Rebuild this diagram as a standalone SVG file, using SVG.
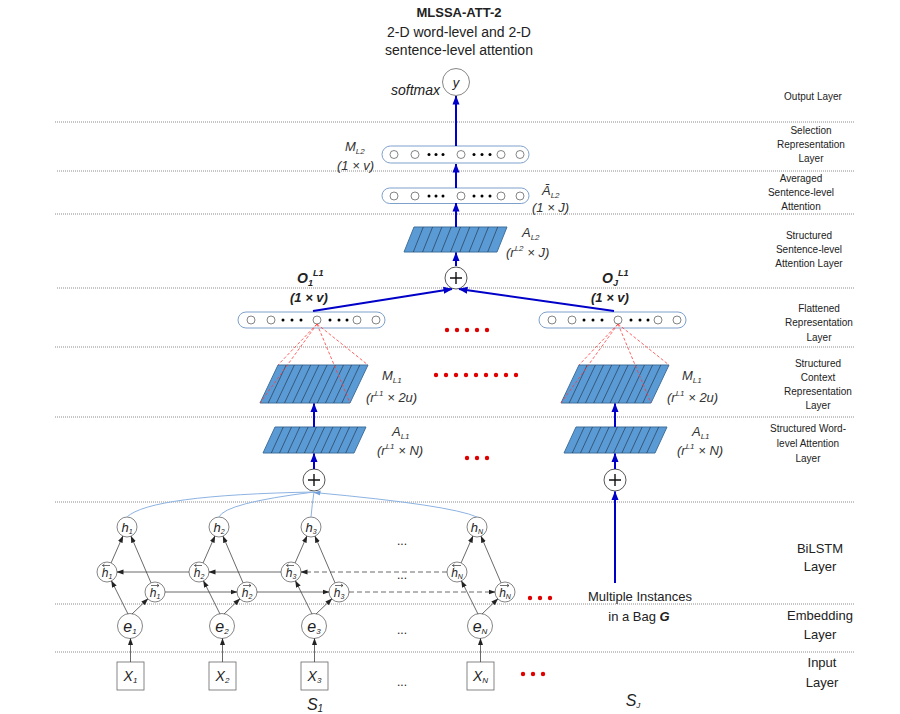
<svg xmlns="http://www.w3.org/2000/svg" width="900" height="714" viewBox="0 0 900 714">
<defs>
<marker id="ab" markerUnits="userSpaceOnUse" markerWidth="9" markerHeight="8" refX="8.5" refY="4" orient="auto"><path d="M0,0.5 L9,4 L0,7.5 z" fill="#0000c8"/></marker>
<marker id="ak" markerUnits="userSpaceOnUse" markerWidth="7" markerHeight="6" refX="6.5" refY="3" orient="auto"><path d="M0,0.5 L7,3 L0,5.5 z" fill="#222"/></marker>
<marker id="al" markerUnits="userSpaceOnUse" markerWidth="7" markerHeight="6" refX="6.5" refY="3" orient="auto"><path d="M0,0.5 L7,3 L0,5.5 z" fill="#6fa0dc"/></marker>
<path id="hM" d="M268.2,403L286.2,365M276.4,403L294.4,365M284.5,403L302.5,365M292.7,403L310.7,365M300.9,403L318.9,365M309.1,403L327.1,365M317.3,403L335.3,365M325.5,403L343.5,365M333.6,403L351.6,365M341.8,403L359.8,365"/>
<path id="hA" d="M271.3,453L283.3,427M279.5,453L291.5,427M287.8,453L299.8,427M296.1,453L308.1,427M304.4,453L316.4,427M312.6,453L324.6,427M320.9,453L332.9,427M329.2,453L341.2,427M337.5,453L349.5,427M345.7,453L357.7,427"/>
<style>
.sep{stroke:#8c8c8c;stroke-width:1;stroke-dasharray:1 1;fill:none}
.lbl{font-family:'Liberation Sans',Arial,sans-serif;font-size:10px;fill:#222;text-anchor:middle}
.lbl2{font-family:'Liberation Sans',Arial,sans-serif;font-size:13px;fill:#222;text-anchor:middle}
.vec{fill:#fff;stroke:#7ea1cc;stroke-width:1}
.vc{fill:#fff;stroke:#666;stroke-width:0.8}
.vd{fill:#000}
.par{fill:#5b9bd5;stroke:#41719c;stroke-width:1}
.hatch{stroke:#1f2a3a;stroke-width:0.6;fill:none}
.blue{stroke:#0000c8;stroke-width:2;fill:none;marker-end:url(#ab)}
.red{stroke:#ff3b3b;stroke-width:0.8;stroke-dasharray:3 2;fill:none}
.rdot{fill:#e00000}
.blk{stroke:#444;stroke-width:0.8;fill:none;marker-end:url(#ak)}
.dsh{stroke-dasharray:5 3}
.lb{stroke:#8db3e2;stroke-width:1;fill:none}
.node{fill:#fff;stroke:#666;stroke-width:0.8}
.plus{fill:#fff;stroke:#444;stroke-width:0.9}
.pl{stroke:#111;stroke-width:1.4;fill:none}
.it{font-family:'Liberation Sans',Arial,sans-serif;font-style:italic;fill:#222}
.mt{font-family:'Liberation Sans',Arial,sans-serif;font-style:italic;fill:#333;font-size:13px}
.acc{stroke:#333;stroke-width:0.7;fill:none}
</style>
</defs>

<!-- layer separators -->
<g id="separators">
<line class="sep" x1="55" y1="122" x2="855" y2="122"/>
<line class="sep" x1="57" y1="171" x2="855" y2="171"/>
<line class="sep" x1="55" y1="214" x2="855" y2="214"/>
<line class="sep" x1="57" y1="288" x2="855" y2="288"/>
<line class="sep" x1="55" y1="347" x2="855" y2="347"/>
<line class="sep" x1="55" y1="417" x2="855" y2="417"/>
<line class="sep" x1="55" y1="502" x2="855" y2="502"/>
<line class="sep" x1="55" y1="604" x2="855" y2="604"/>
<line class="sep" x1="55" y1="652" x2="855" y2="652"/>
</g>

<!-- title -->
<g id="title" font-family="'Liberation Sans',Arial,sans-serif" text-anchor="middle" fill="#222">
<text x="459" y="17" font-size="13" font-weight="bold">MLSSA-ATT-2</text>
<text x="459" y="37" font-size="14">2-D word-level and 2-D</text>
<text x="459" y="55" font-size="14">sentence-level attention</text>
</g>

<!-- layer labels -->
<g id="layer-labels">
<text class="lbl" x="813" y="100">Output Layer</text>
<text class="lbl" x="811" y="133.5">Selection</text>
<text class="lbl" x="811" y="147.5">Representation</text>
<text class="lbl" x="811" y="161.5">Layer</text>
<text class="lbl" x="801" y="181.5">Averaged</text>
<text class="lbl" x="801" y="196">Sentence-level</text>
<text class="lbl" x="801" y="209.5">Attention</text>
<text class="lbl" x="809" y="238.5">Structured</text>
<text class="lbl" x="809" y="252.5">Sentence-level</text>
<text class="lbl" x="809" y="266.5">Attention Layer</text>
<text class="lbl" x="819" y="311.5">Flattened</text>
<text class="lbl" x="819" y="325.5">Representation</text>
<text class="lbl" x="819" y="340.5">Layer</text>
<text class="lbl" x="818" y="366.5">Structured</text>
<text class="lbl" x="818" y="380.5">Context</text>
<text class="lbl" x="818" y="394.5">Representation</text>
<text class="lbl" x="818" y="408.5">Layer</text>
<text class="lbl" x="808" y="431.5">Structured Word-</text>
<text class="lbl" x="808" y="446.5">level Attention</text>
<text class="lbl" x="808" y="461.5">Layer</text>
<text class="lbl2" x="820" y="553">BiLSTM</text>
<text class="lbl2" x="820" y="571">Layer</text>
<text class="lbl2" x="820" y="620">Embedding</text>
<text class="lbl2" x="820" y="639">Layer</text>
<text class="lbl2" x="822" y="667">Input</text>
<text class="lbl2" x="822" y="687">Layer</text>
</g>

<!-- output -->
<g id="node-y">
<circle class="node" cx="456" cy="82" r="13.5"/>
<text class="it" x="456" y="86.5" font-size="13" text-anchor="middle">y</text>
<text class="it" x="440" y="95" font-size="14" text-anchor="end">softmax</text>
</g>

<g id="node-ML2">
<rect class="vec" x="382" y="146" width="147" height="17" rx="8.5"/>
<circle class="vc" cx="394" cy="154.5" r="4"/><circle class="vc" cx="415" cy="154.5" r="4"/>
<circle class="vd" cx="429" cy="154.5" r="1.5"/><circle class="vd" cx="436" cy="154.5" r="1.5"/><circle class="vd" cx="443" cy="154.5" r="1.5"/>
<circle class="vc" cx="461" cy="154.5" r="4"/>
<circle class="vd" cx="474" cy="154.5" r="1.5"/><circle class="vd" cx="482" cy="154.5" r="1.5"/><circle class="vd" cx="490" cy="154.5" r="1.5"/>
<circle class="vc" cx="501" cy="154.5" r="4"/><circle class="vc" cx="520" cy="154.5" r="4"/>
<text class="mt" x="345" y="151" font-size="14">M<tspan font-size="8" dy="3">L2</tspan></text>
<text class="mt" x="337" y="170">(1 × v)</text>
</g>

<g id="node-AbarL2">
<rect class="vec" x="382" y="188" width="147" height="15.5" rx="7.75"/>
<circle class="vc" cx="394" cy="196" r="4"/><circle class="vc" cx="415" cy="196" r="4"/>
<circle class="vd" cx="429" cy="196" r="1.5"/><circle class="vd" cx="436" cy="196" r="1.5"/><circle class="vd" cx="443" cy="196" r="1.5"/>
<circle class="vc" cx="461" cy="196" r="4"/>
<circle class="vd" cx="474" cy="196" r="1.5"/><circle class="vd" cx="482" cy="196" r="1.5"/><circle class="vd" cx="490" cy="196" r="1.5"/>
<circle class="vc" cx="501" cy="196" r="4"/><circle class="vc" cx="520" cy="196" r="4"/>
<text class="mt" x="542" y="195" font-size="14">Ā<tspan font-size="8" dy="3">L2</tspan></text>
<text class="mt" x="532" y="212">(1 × J)</text>
</g>

<g id="node-AL2">
<polygon class="par" points="414,227 507,227 497,252 404,252"/>
<path class="hatch" d="M413.3,252L423.3,227M422.6,252L432.6,227M431.9,252L441.9,227M441.2,252L451.2,227M450.5,252L460.5,227M459.8,252L469.8,227M469.1,252L479.1,227M478.4,252L488.4,227M487.7,252L497.7,227"/>
<text class="mt" x="522" y="237">A<tspan font-size="8" dy="3">L2</tspan></text>
<text class="mt" x="506" y="257">(r<tspan font-size="8" dy="-6">L2</tspan><tspan dy="6"> × J)</tspan></text>
</g>

<g id="node-plus-top">
<circle class="plus" cx="456" cy="278" r="11"/>
<path class="pl" d="M450,278H462M456,272V284"/>
</g>

<g id="labels-O">
<text class="it" x="297" y="283" font-size="14" font-weight="bold">O<tspan font-size="9" dy="3">1</tspan><tspan font-size="9" dy="-10">L1</tspan></text>
<text class="it" x="290" y="302" font-size="13" font-weight="bold">(1 × v)</text>
<text class="it" x="602" y="283" font-size="14" font-weight="bold">O<tspan font-size="9" dy="3">J</tspan><tspan font-size="9" dy="-10">L1</tspan></text>
<text class="it" x="591" y="302" font-size="13" font-weight="bold">(1 × v)</text>
</g>

<g id="node-flat-1">
<rect class="vec" x="238" y="312" width="147" height="16" rx="8"/>
<circle class="vc" cx="251" cy="320" r="4"/><circle class="vc" cx="271" cy="320" r="4"/>
<circle class="vd" cx="283" cy="320" r="1.5"/><circle class="vd" cx="292" cy="320" r="1.5"/><circle class="vd" cx="301" cy="320" r="1.5"/>
<circle class="vc" cx="317" cy="320" r="4"/>
<circle class="vd" cx="330" cy="320" r="1.5"/><circle class="vd" cx="339" cy="320" r="1.5"/><circle class="vd" cx="347" cy="320" r="1.5"/>
<circle class="vc" cx="357" cy="320" r="4"/><circle class="vc" cx="376" cy="320" r="4"/>
</g>

<g id="node-flat-J">
<rect class="vec" x="539" y="312" width="147" height="16" rx="8"/>
<circle class="vc" cx="552" cy="320" r="4"/><circle class="vc" cx="572" cy="320" r="4"/>
<circle class="vd" cx="584" cy="320" r="1.5"/><circle class="vd" cx="593" cy="320" r="1.5"/><circle class="vd" cx="602" cy="320" r="1.5"/>
<circle class="vc" cx="618" cy="320" r="4"/>
<circle class="vd" cx="631" cy="320" r="1.5"/><circle class="vd" cx="640" cy="320" r="1.5"/><circle class="vd" cx="648" cy="320" r="1.5"/>
<circle class="vc" cx="658" cy="320" r="4"/><circle class="vc" cx="677" cy="320" r="4"/>
</g>

<g id="node-ML1-1">
<polygon class="par" points="278,365 368,365 350,403 260,403"/>
<use href="#hM" class="hatch"/>
<text class="mt" x="382" y="380">M<tspan font-size="8" dy="3">L1</tspan></text>
<text class="mt" x="366" y="402">(r<tspan font-size="8" dy="-6">L1</tspan><tspan dy="6"> × 2u)</tspan></text>
</g>

<g id="node-ML1-J">
<polygon class="par" points="579,365 669,365 651,403 561,403"/>
<use href="#hM" class="hatch" x="301"/>
<text class="mt" x="682" y="380">M<tspan font-size="8" dy="3">L1</tspan></text>
<text class="mt" x="667" y="402">(r<tspan font-size="8" dy="-6">L1</tspan><tspan dy="6"> × 2u)</tspan></text>
</g>

<g id="node-AL1-1">
<polygon class="par" points="275,427 366,427 354,453 263,453"/>
<use href="#hA" class="hatch"/>
<text class="mt" x="392" y="436">A<tspan font-size="8" dy="3">L1</tspan></text>
<text class="mt" x="377" y="455">(r<tspan font-size="8" dy="-6">L1</tspan><tspan dy="6"> × N)</tspan></text>
</g>

<g id="node-AL1-J">
<polygon class="par" points="576,427 667,427 655,453 564,453"/>
<use href="#hA" class="hatch" x="301"/>
<text class="mt" x="692" y="436">A<tspan font-size="8" dy="3">L1</tspan></text>
<text class="mt" x="677" y="455">(r<tspan font-size="8" dy="-6">L1</tspan><tspan dy="6"> × N)</tspan></text>
</g>

<g id="node-plus-1">
<circle class="plus" cx="314" cy="480" r="11"/>
<path class="pl" d="M308,480H320M314,474V486"/>
</g>
<g id="node-plus-J">
<circle class="plus" cx="615" cy="480" r="11"/>
<path class="pl" d="M609,480H621M615,474V486"/>
</g>

<!-- red ellipsis dots -->
<g id="red-dots">
<circle class="rdot" cx="447" cy="330" r="2.2"/><circle class="rdot" cx="457" cy="330" r="2.2"/><circle class="rdot" cx="467" cy="330" r="2.2"/><circle class="rdot" cx="477" cy="330" r="2.2"/><circle class="rdot" cx="487" cy="330" r="2.2"/>
<circle class="rdot" cx="436" cy="375" r="2.2"/><circle class="rdot" cx="446" cy="375" r="2.2"/><circle class="rdot" cx="456" cy="375" r="2.2"/><circle class="rdot" cx="466" cy="375" r="2.2"/><circle class="rdot" cx="476" cy="375" r="2.2"/><circle class="rdot" cx="486" cy="375" r="2.2"/><circle class="rdot" cx="496" cy="375" r="2.2"/><circle class="rdot" cx="506" cy="375" r="2.2"/><circle class="rdot" cx="516" cy="375" r="2.2"/>
<circle class="rdot" cx="467" cy="458" r="2.2"/><circle class="rdot" cx="477" cy="458" r="2.2"/><circle class="rdot" cx="487" cy="458" r="2.2"/>
<circle class="rdot" cx="530" cy="598" r="2.2"/><circle class="rdot" cx="540" cy="598" r="2.2"/><circle class="rdot" cx="550" cy="598" r="2.2"/>
<circle class="rdot" cx="523" cy="674" r="2.2"/><circle class="rdot" cx="533" cy="674" r="2.2"/><circle class="rdot" cx="543" cy="674" r="2.2"/>
</g>

<!-- BiLSTM concat nodes -->
<g id="node-h1"><circle class="node" cx="127" cy="527" r="10"/><text class="it" x="127" y="531.5" font-size="13" text-anchor="middle">h<tspan font-size="7" dy="2">1</tspan></text></g>
<g id="node-h2"><circle class="node" cx="219" cy="527" r="10"/><text class="it" x="219" y="531.5" font-size="13" text-anchor="middle">h<tspan font-size="7" dy="2">2</tspan></text></g>
<g id="node-h3"><circle class="node" cx="311" cy="527" r="10"/><text class="it" x="311" y="531.5" font-size="13" text-anchor="middle">h<tspan font-size="7" dy="2">3</tspan></text></g>
<g id="node-hN"><circle class="node" cx="477" cy="527" r="10"/><text class="it" x="477" y="531.5" font-size="13" text-anchor="middle">h<tspan font-size="7" dy="2">N</tspan></text></g>

<!-- backward states -->
<g id="node-hb1"><circle class="node" cx="107" cy="572" r="10"/><text class="it" x="107" y="576.5" font-size="12" text-anchor="middle">h<tspan font-size="7" dy="2">1</tspan></text><path class="acc" d="M110,565.5H102.5M104.5,564L102.5,565.5L104.5,567"/></g>
<g id="node-hb2"><circle class="node" cx="199" cy="572" r="10"/><text class="it" x="199" y="576.5" font-size="12" text-anchor="middle">h<tspan font-size="7" dy="2">2</tspan></text><path class="acc" d="M202,565.5H194.5M196.5,564L194.5,565.5L196.5,567"/></g>
<g id="node-hb3"><circle class="node" cx="291" cy="572" r="10"/><text class="it" x="291" y="576.5" font-size="12" text-anchor="middle">h<tspan font-size="7" dy="2">3</tspan></text><path class="acc" d="M294,565.5H286.5M288.5,564L286.5,565.5L288.5,567"/></g>
<g id="node-hbN"><circle class="node" cx="457" cy="572" r="10"/><text class="it" x="457" y="576.5" font-size="12" text-anchor="middle">h<tspan font-size="7" dy="2">N</tspan></text><path class="acc" d="M461,565.5H452.5M454.5,564L452.5,565.5L454.5,567"/></g>

<!-- forward states -->
<g id="node-hf1"><circle class="node" cx="155" cy="592" r="10"/><text class="it" x="155" y="596.5" font-size="12" text-anchor="middle">h<tspan font-size="7" dy="2">1</tspan></text><path class="acc" d="M151,585.5H159M157,584L159,585.5L157,587"/></g>
<g id="node-hf2"><circle class="node" cx="247" cy="592" r="10"/><text class="it" x="247" y="596.5" font-size="12" text-anchor="middle">h<tspan font-size="7" dy="2">2</tspan></text><path class="acc" d="M243,585.5H251M249,584L251,585.5L249,587"/></g>
<g id="node-hf3"><circle class="node" cx="339" cy="592" r="10"/><text class="it" x="339" y="596.5" font-size="12" text-anchor="middle">h<tspan font-size="7" dy="2">3</tspan></text><path class="acc" d="M335,585.5H343M341,584L343,585.5L341,587"/></g>
<g id="node-hfN"><circle class="node" cx="505" cy="592" r="10"/><text class="it" x="505" y="596.5" font-size="12" text-anchor="middle">h<tspan font-size="7" dy="2">N</tspan></text><path class="acc" d="M500,585.5H509M507,584L509,585.5L507,587"/></g>

<!-- embeddings -->
<g id="node-e1"><circle class="node" cx="130" cy="626" r="12.5"/><text class="it" x="130" y="631.5" font-size="16" text-anchor="middle">e<tspan font-size="8" dy="2">1</tspan></text></g>
<g id="node-e2"><circle class="node" cx="222" cy="626" r="12.5"/><text class="it" x="222" y="631.5" font-size="16" text-anchor="middle">e<tspan font-size="8" dy="2">2</tspan></text></g>
<g id="node-e3"><circle class="node" cx="314" cy="626" r="12.5"/><text class="it" x="314" y="631.5" font-size="16" text-anchor="middle">e<tspan font-size="8" dy="2">3</tspan></text></g>
<g id="node-eN"><circle class="node" cx="480" cy="626" r="12.5"/><text class="it" x="480" y="631.5" font-size="16" text-anchor="middle">e<tspan font-size="8" dy="2">N</tspan></text></g>

<!-- inputs -->
<g id="node-X1"><rect class="node" x="117" y="662" width="27" height="28"/><text class="it" x="130.5" y="681" font-size="14" text-anchor="middle">X<tspan font-size="8" dy="2">1</tspan></text></g>
<g id="node-X2"><rect class="node" x="209" y="662" width="27" height="28"/><text class="it" x="222.5" y="681" font-size="14" text-anchor="middle">X<tspan font-size="8" dy="2">2</tspan></text></g>
<g id="node-X3"><rect class="node" x="301" y="662" width="27" height="28"/><text class="it" x="314.5" y="681" font-size="14" text-anchor="middle">X<tspan font-size="8" dy="2">3</tspan></text></g>
<g id="node-XN"><rect class="node" x="467" y="662" width="27" height="28"/><text class="it" x="480.5" y="681" font-size="14" text-anchor="middle">X<tspan font-size="8" dy="2">N</tspan></text></g>

<!-- ellipses and misc text -->
<g id="misc-text" font-family="'Liberation Sans',Arial,sans-serif" fill="#222">
<text x="402" y="545" font-size="12" text-anchor="middle">...</text>
<text x="402" y="579" font-size="12" text-anchor="middle">...</text>
<text x="402" y="634" font-size="12" text-anchor="middle">...</text>
<text x="402" y="686" font-size="12" text-anchor="middle">...</text>
<text x="640" y="601" font-size="13" text-anchor="middle">Multiple Instances</text>
<text x="639" y="621" font-size="13" text-anchor="middle">in a Bag <tspan font-weight="bold" font-style="italic">G</tspan></text>
<text class="it" x="315" y="710" font-size="16" text-anchor="middle">S<tspan font-size="10" dy="2">1</tspan></text>
<text class="it" x="633" y="706" font-size="16" text-anchor="middle">S<tspan font-size="8" dy="2">J</tspan></text>
</g>

<!-- connectors (drawn last, over the nodes as in the reference) -->
<g id="connectors">
<line class="blue" x1="456" y1="146" x2="456" y2="96"/>
<line class="blue" x1="456" y1="188" x2="456" y2="164"/>
<line class="blue" x1="456" y1="227" x2="456" y2="203"/>
<line class="blue" x1="456" y1="266" x2="456" y2="252.5"/>
<line class="blue" x1="313" y1="311" x2="452" y2="289"/>
<line class="blue" x1="614" y1="311" x2="459" y2="289"/>
<line class="blue" x1="314" y1="427" x2="314" y2="403.5"/>
<line class="blue" x1="314" y1="469" x2="314" y2="453.5"/>
<line class="blue" x1="615" y1="427" x2="615" y2="403.5"/>
<line class="blue" x1="615" y1="469" x2="615" y2="453.5"/>
<line class="blue" x1="615" y1="583" x2="615" y2="491.5"/>
<path class="red" d="M317,324L278,365M317,324L260,403M317,324L368,365M317,324L350,403"/>
<path class="red" d="M618,324L579,365M618,324L561,403M618,324L669,365M618,324L651,403"/>
<path class="lb" d="M127,517Q150,495 314,492"/>
<path class="lb" d="M219,517Q225,503 314,492"/>
<path class="lb" d="M311,517Q312,505 314,492"/>
<path class="lb" d="M477,517Q450,505 314,492.5" marker-end="url(#al)"/>
<line class="blk" x1="128" y1="614" x2="111.5" y2="580.9"/>
<line class="blk" x1="132" y1="614" x2="147.8" y2="598.9"/>
<line class="blk" x1="111.1" y1="562.9" x2="122.9" y2="536.1"/>
<line class="blk" x1="151" y1="582.8" x2="131" y2="536.2"/>
<line class="blk" x1="220" y1="614" x2="203.5" y2="580.9"/>
<line class="blk" x1="224" y1="614" x2="239.8" y2="598.9"/>
<line class="blk" x1="203.1" y1="562.9" x2="214.9" y2="536.1"/>
<line class="blk" x1="243" y1="582.8" x2="223" y2="536.2"/>
<line class="blk" x1="312" y1="614" x2="295.5" y2="580.9"/>
<line class="blk" x1="316" y1="614" x2="331.8" y2="598.9"/>
<line class="blk" x1="295.1" y1="562.9" x2="306.9" y2="536.1"/>
<line class="blk" x1="335" y1="582.8" x2="315" y2="536.2"/>
<line class="blk" x1="478" y1="614" x2="461.5" y2="580.9"/>
<line class="blk" x1="482" y1="614" x2="497.8" y2="598.9"/>
<line class="blk" x1="461.1" y1="562.9" x2="472.9" y2="536.1"/>
<line class="blk" x1="501" y1="582.8" x2="481" y2="536.2"/>
<line class="blk" x1="189" y1="572" x2="117" y2="572"/>
<line class="blk" x1="281" y1="572" x2="209" y2="572"/>
<line class="blk dsh" x1="447" y1="572" x2="301" y2="572"/>
<line class="blk" x1="165" y1="592" x2="237" y2="592"/>
<line class="blk" x1="257" y1="592" x2="329" y2="592"/>
<line class="blk dsh" x1="349" y1="592" x2="495" y2="592"/>
<line class="blk" x1="130.5" y1="662" x2="130.5" y2="638.5"/>
<line class="blk" x1="222.5" y1="662" x2="222.5" y2="638.5"/>
<line class="blk" x1="314.5" y1="662" x2="314.5" y2="638.5"/>
<line class="blk" x1="480.5" y1="662" x2="480.5" y2="638.5"/>
</g>
</svg>
